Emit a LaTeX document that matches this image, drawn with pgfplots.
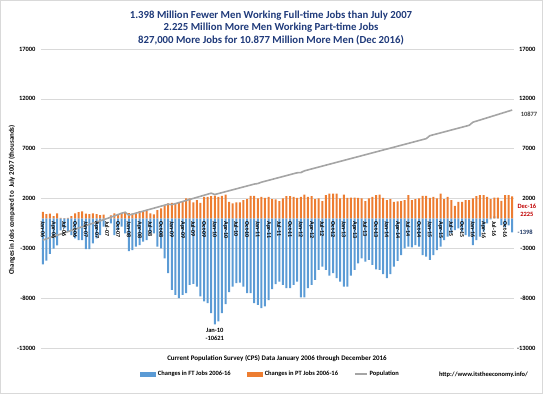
\documentclass[border=0pt]{standalone}
\usepackage{fontspec}
\setmainfont{Carlito}
\usepackage{pgfplots}
\pgfplotsset{compat=1.18}
\usepackage{pgfplotstable}
\definecolor{ftblue}{HTML}{5B9BD5}
\definecolor{ptorange}{HTML}{ED7D31}
\definecolor{popgray}{HTML}{A5A5A5}
\definecolor{gridgray}{HTML}{D9D9D9}
\definecolor{titleblue}{HTML}{1F3A7A}
\definecolor{annred}{HTML}{C00000}
\definecolor{annblue}{HTML}{1F3864}

\pgfplotstableread{
i ft pt pop
0 -4600 670 -2170
1 -4230 430 -2050
2 -3560 470 -1930
3 -3030 230 -1810
4 -2700 500 -1690
5 -1200 50 -1570
6 -1000 30 -1450
7 -1300 50 -1330
8 -1670 230 -1200
9 -2000 500 -1080
10 -2170 630 -960
11 -2170 700 -840
12 -3070 470 -720
13 -3070 430 -600
14 -2500 500 -480
15 -2000 430 -360
16 -1670 330 -240
17 -830 370 -120
18 0 0 0
19 -500 300 130
20 -1670 500 260
21 -1170 430 390
22 -830 570 520
23 -1500 570 620
24 -3270 530 330
25 -3170 470 430
26 -2830 570 530
27 -2670 730 630
28 -2330 700 730
29 -2170 770 830
30 -1500 500 930
31 -1500 400 1030
32 -2830 830 1130
33 -3000 1000 1230
34 -4000 1270 1330
35 -5500 1500 1430
36 -7170 1570 1380
37 -7670 1500 1485
38 -8000 1600 1590
39 -7670 1730 1695
40 -7500 2000 1800
41 -6670 2000 1905
42 -6570 1600 2010
43 -6830 1830 2115
44 -7830 1570 2220
45 -8330 2170 2325
46 -8500 2170 2430
47 -9500 2230 2535
48 -10621 2300 2400
49 -10330 2170 2495
50 -9500 2270 2590
51 -8600 2400 2685
52 -7400 1670 2780
53 -6830 1500 2875
54 -6500 1600 2970
55 -6430 1600 3065
56 -6830 1830 3160
57 -7500 1930 3255
58 -7500 2270 3350
59 -8500 2270 3445
60 -8670 2000 3500
61 -9000 2170 3635
62 -8830 2070 3730
63 -8200 2170 3825
64 -7100 1930 3920
65 -6600 1900 4015
66 -6330 1730 4110
67 -6670 2000 4205
68 -7000 2230 4300
69 -7000 2230 4395
70 -6670 2170 4490
71 -6330 2070 4585
72 -7930 2170 4600
73 -7930 2400 4775
74 -7000 2170 4870
75 -6670 2250 4965
76 -6170 1930 5060
77 -5170 2000 5155
78 -4830 1730 5250
79 -5170 2330 5345
80 -5730 2500 5440
81 -5500 2500 5535
82 -6000 2500 5630
83 -6330 2000 5725
84 -6830 2400 5820
85 -6830 2070 5915
86 -5730 2100 6010
87 -5170 2100 6105
88 -4500 2070 6200
89 -4000 2000 6295
90 -4330 1730 6390
91 -4170 2000 6485
92 -4670 2170 6580
93 -5100 2330 6675
94 -5170 2400 6770
95 -5600 2070 6865
96 -6000 1830 6960
97 -5600 1930 7055
98 -4830 1670 7150
99 -4250 1700 7245
100 -3670 1730 7340
101 -3000 1830 7435
102 -2830 2330 7530
103 -2900 1830 7625
104 -2670 1930 7720
105 -2830 2000 7815
106 -3670 2270 7910
107 -3830 2270 8005
108 -4170 2070 8300
109 -3670 2170 8395
110 -3170 2000 8490
111 -2830 2500 8585
112 -2170 1930 8680
113 -1830 2170 8775
114 -1500 1830 8870
115 -1170 1270 8965
116 -1000 1670 9060
117 -1330 1670 9155
118 -1670 1830 9250
119 -1830 1830 9345
120 -2670 2000 9650
121 -2170 2230 9762
122 -1830 2330 9873
123 -1330 2330 9985
124 -500 2170 10096
125 -100 1930 10208
126 200 2100 10319
127 200 2100 10431
128 -670 1770 10542
129 -900 2330 10654
130 -700 2330 10765
131 -1398 2225 10877
}\datatable

\begin{document}
\begin{tikzpicture}
\path[use as bounding box] (0,0) rectangle (543bp,394bp);
\draw[gridgray, line width=0.6bp] (0.3bp,0.3bp) rectangle (542.7bp,393.7bp);
\begin{axis}[
  at={(41bp,46bp)}, anchor=south west,
  scale only axis, width=473bp, height=299bp,
  xmin=-0.5, xmax=131.5, ymin=-13000, ymax=17000,
  ytick={-13000,-8000,...,17000},
  xtick=\empty,
  ymajorgrids, grid style={gridgray, line width=0.6bp},
  axis line style={draw=none}, major tick length=0pt,
  scaled y ticks=false,
  /pgf/number format/assume math mode=true,
  /pgf/number format/1000 sep={},
  yticklabel style={font=\fontsize{6.5}{7}\selectfont\bfseries, xshift=-2bp},
  clip=false,
  legend style={at={(0.485,-0.087)}, anchor=center, draw=none, fill=none,
    legend columns=3, font=\fontsize{6.5}{7}\selectfont\bfseries,
    /tikz/every even column/.append style={column sep=14bp}},
]
\addplot[ybar, bar width=2bp, bar shift=0pt, fill=ftblue, draw=none,
  legend image code/.code={\fill[ftblue] (0bp,-2.5bp) rectangle (16bp,2.5bp);}]
  table[x=i,y=ft]{\datatable};
\addlegendentry{Changes in FT Jobs 2006-16}
\addplot[ybar, bar width=2bp, bar shift=0pt, fill=ptorange, draw=none,
  legend image code/.code={\fill[ptorange] (0bp,-2.5bp) rectangle (16bp,2.5bp);}]
  table[x=i,y=pt]{\datatable};
\addlegendentry{Changes in PT Jobs 2006-16}
\addplot[popgray, line width=1.6bp, no markers,
  legend image code/.code={\draw[popgray, line width=1.6bp] (0bp,0bp) -- (12bp,0bp);}]
  table[x=i,y=pop]{\datatable};
\addlegendentry{Population}
\node[font=\fontsize{6.5}{7.5}\selectfont\bfseries, align=center, anchor=north] at (axis cs:48,-10700) {Jan-10\\-10621};
\node[font=\fontsize{6.5}{7}\selectfont\bfseries, text=annred] at (axis cs:135.1,1260) {Dec-16};
\node[font=\fontsize{6.5}{7}\selectfont\bfseries, text=annred] at (axis cs:135.1,430) {2225};
\node[font=\fontsize{6.5}{7}\selectfont\bfseries, text=annblue] at (axis cs:134.6,-1340) {-1398};
\node[font=\fontsize{6.5}{7}\selectfont\bfseries, text=black!75] at (axis cs:135.7,10430) {10877};
\end{axis}
\begin{axis}[
  at={(41bp,46bp)}, anchor=south west,
  scale only axis, width=473bp, height=299bp,
  xmin=-0.5, xmax=131.5, ymin=-13000, ymax=17000,
  axis x line*=middle, axis y line*=right,
  axis line style={draw=none}, major tick length=0pt,
  ytick={-13000,-8000,...,17000},
  xtick={0,3,...,129},
  xticklabels={Jan-06,Apr-06,Jul-06,Oct-06,Jan-07,Apr-07,Jul-07,Oct-07,Jan-08,Apr-08,Jul-08,Oct-08,Jan-09,Apr-09,Jul-09,Oct-09,Jan-10,Apr-10,Jul-10,Oct-10,Jan-11,Apr-11,Jul-11,Oct-11,Jan-12,Apr-12,Jul-12,Oct-12,Jan-13,Apr-13,Jul-13,Oct-13,Jan-14,Apr-14,Jul-14,Oct-14,Jan-15,Apr-15,Jul-15,Oct-15,Jan-16,Apr-16,Jul-16,Oct-16},
  xticklabel style={rotate=-90, anchor=west, inner sep=3bp, font=\fontsize{6}{6}\selectfont\bfseries},
  scaled y ticks=false,
  /pgf/number format/assume math mode=true,
  /pgf/number format/1000 sep={},
  yticklabel style={anchor=east, xshift=25bp, font=\fontsize{6.5}{7}\selectfont\bfseries},
]
\addplot[draw=none] coordinates {(0,0)};
\end{axis}
\node[font=\fontsize{10.8}{13}\selectfont\bfseries, text=titleblue, align=center] at (271bp,366bp)
  {1.398 Million Fewer Men Working Full-time Jobs than July 2007\\2.225 Million More Men Working Part-time Jobs\\827,000 More Jobs for 10.877 Million More Men (Dec 2016)};
\node[rotate=90, font=\fontsize{7}{8}\selectfont\bfseries] at (12bp,194bp) {Changes in Jobs compared to\ \ July 2007 (thousands)};
\node[font=\fontsize{7}{8}\selectfont\bfseries] at (277bp,35bp) {Current Population Survey (CPS) Data January 2006 through December 2016};
\node[font=\fontsize{6.5}{7}\selectfont\bfseries] at (483.5bp,19bp) {http://www.itstheeconomy.info/};
\end{tikzpicture}
\end{document}
